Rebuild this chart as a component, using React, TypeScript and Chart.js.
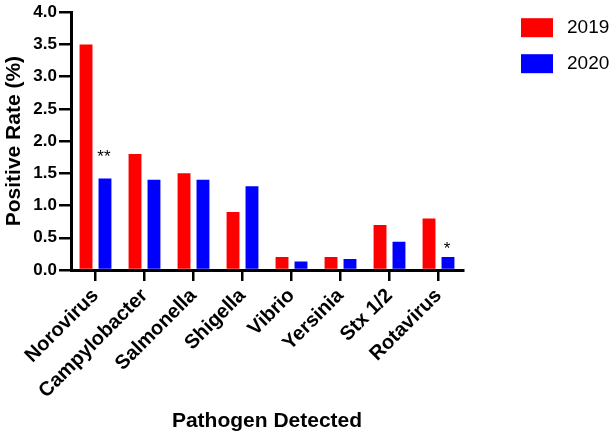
import React, { useEffect, useRef } from "react";
import { Chart, registerables } from "chart.js";

Chart.register(...registerables);

const categories = ["Norovirus", "Campylobacter", "Salmonella", "Shigella", "Vibrio", "Yersinia", "Stx 1/2", "Rotavirus"];
const values2019 = [3.5, 1.8, 1.5, 0.9, 0.2, 0.2, 0.7, 0.8];
const values2020 = [1.42, 1.4, 1.4, 1.3, 0.13, 0.17, 0.44, 0.2];
const significance2020 = ["**", "", "", "", "", "", "", "*"];
const seriesLabels = ["2019", "2020"];
const yTicks = [0, 0.5, 1, 1.5, 2, 2.5, 3, 3.5, 4];

const FONT = '"Liberation Sans", Arial, Helvetica, sans-serif';

const annotationPlugin = {
  id: "sigMarks",
  afterDatasetsDraw(chart: any) {
    const ctx = chart.ctx;
    const meta = chart.getDatasetMeta(1);
    ctx.save();
    ctx.fillStyle = "#000";
    ctx.font = `17px ${FONT}`;
    ctx.textAlign = "center";
    ctx.textBaseline = "alphabetic";
    significance2020.forEach((s, i) => {
      if (!s) return;
      const bar = meta.data[i];
      const lift = i === 0 ? 16 : 3;
      ctx.fillText(s, bar.x - 1, bar.y - lift);
    });
    ctx.restore();
  },
};

const legendPlugin = {
  id: "sideLegend",
  afterDraw(chart: any) {
    const ctx = chart.ctx;
    const x0 = chart.chartArea.right + 58;
    const y0 = chart.chartArea.top + 6;
    ctx.save();
    chart.data.datasets.forEach((ds: any, i: number) => {
      const y = y0 + i * 36;
      ctx.fillStyle = ds.backgroundColor;
      ctx.fillRect(x0, y, 32, 19);
      ctx.fillStyle = "#000";
      ctx.font = `19px ${FONT}`;
      ctx.textBaseline = "middle";
      ctx.textAlign = "left";
      ctx.fillText(ds.label, x0 + 46, y + 10);
    });
    ctx.restore();
  },
};

export default function App() {
  const ref = useRef<HTMLCanvasElement>(null);
  useEffect(() => {
    document.body.style.margin = "0";
    const chart = new Chart(ref.current!, {
      type: "bar",
      data: {
        labels: categories,
        datasets: [
          { label: seriesLabels[0], data: values2019, backgroundColor: "#FF0000", categoryPercentage: 0.774, barPercentage: 0.68 },
          { label: seriesLabels[1], data: values2020, backgroundColor: "#0000FF", categoryPercentage: 0.774, barPercentage: 0.68 },
        ],
      },
      options: {
        animation: false,
        responsive: false,
        layout: { padding: { top: 12, right: 152, left: 0, bottom: 0 } },
        plugins: { legend: { display: false }, tooltip: { enabled: false } },
        scales: {
          x: {
            afterFit: (s: any) => { s.height = 168; },
            grid: { display: true, drawOnChartArea: false, drawTicks: true, tickLength: 11, color: "#000", lineWidth: 2.5, offset: false },
            border: { display: true, color: "#000", width: 3 },
            ticks: { color: "#000", font: { family: FONT, size: 20, weight: "bold" }, maxRotation: 45, minRotation: 45, padding: 3 },
            title: { display: true, text: "Pathogen Detected", color: "#000", font: { family: FONT, size: 21, weight: "bold" }, padding: { top: 4, bottom: 4 } },
          },
          y: {
            min: 0,
            max: 4,
            afterFit: (s: any) => { s.width = 71; },
            afterBuildTicks: (s: any) => { s.ticks = yTicks.map((v) => ({ value: v })); },
            grid: { display: true, drawOnChartArea: false, drawTicks: true, tickLength: 12, color: "#000", lineWidth: 2.5 },
            border: { display: true, color: "#000", width: 3 },
            ticks: { color: "#000", font: { family: FONT, size: 17, weight: "bold" }, padding: 2, callback: (v: any) => Number(v).toFixed(1) },
            title: { display: true, text: "Positive Rate (%)", color: "#000", font: { family: FONT, size: 21, weight: "bold" }, padding: { top: 2, bottom: 4 } },
          },
        },
      },
      plugins: [annotationPlugin, legendPlugin],
    } as any);
    return () => chart.destroy();
  }, []);
  return (
    <div style={{ width: 615, height: 438 }}>
      <canvas ref={ref} width={615} height={438} style={{ display: "block" }} />
    </div>
  );
}
